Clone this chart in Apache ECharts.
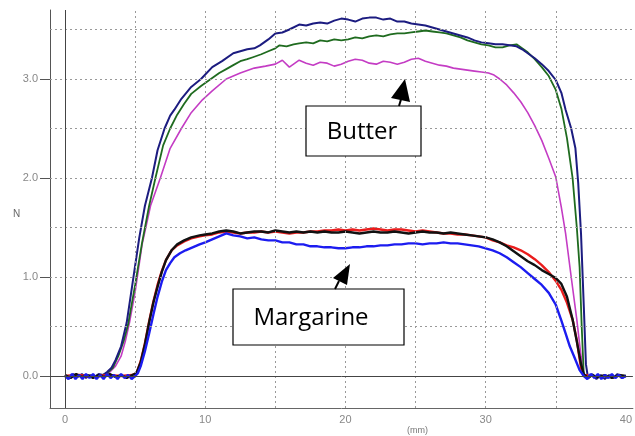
<!DOCTYPE html>
<html>
<head>
<meta charset="utf-8">
<script src="https://cdn.jsdelivr.net/npm/echarts@6/dist/echarts.min.js"></script>
<style>html,body{margin:0;background:#fff}#main{width:635px;height:436px}</style>
</head>
<body>
<div id="main"></div>
<script>
// [mm, N] points
var butterNavy = [[0,0.01],[0.3,-0.02],[0.6,0.02],[0.9,-0.01],[1.2,0.02],[1.5,-0.02],[1.8,0.01],[2.1,-0.01],[2.4,0.02],[2.7,0.01],[3.0,0.04],[3.3,0.08],[3.6,0.16],[4.0,0.3],[4.4,0.54],[4.8,0.92],[5.3,1.4],[5.7,1.72],[6.2,2.0],[6.6,2.28],[7.1,2.5],[7.5,2.63],[7.8,2.69],[8.3,2.8],[9.0,2.92],[9.7,3.0],[10.5,3.12],[11.2,3.18],[12,3.26],[12.5,3.28],[13,3.3],[13.5,3.31],[13.9,3.34],[14.5,3.4],[15,3.46],[15.5,3.47],[16,3.5],[16.7,3.55],[17.2,3.54],[17.7,3.56],[18.2,3.57],[18.7,3.56],[19.2,3.59],[19.7,3.61],[20.2,3.6],[20.7,3.58],[21.2,3.61],[21.7,3.62],[22.2,3.62],[22.7,3.6],[23.2,3.61],[23.7,3.58],[24.2,3.58],[24.7,3.56],[25.2,3.55],[25.7,3.54],[26.2,3.52],[26.7,3.5],[27.2,3.48],[27.7,3.46],[28.2,3.44],[28.7,3.42],[29.2,3.39],[29.7,3.37],[30.2,3.36],[30.7,3.35],[31.2,3.35],[31.7,3.34],[32.2,3.33],[32.6,3.3],[33,3.26],[33.5,3.21],[34,3.15],[34.5,3.08],[35,2.99],[35.4,2.86],[35.7,2.69],[36.1,2.5],[36.4,2.3],[36.6,1.95],[36.8,1.44],[37.0,0.7],[37.15,0.12],[37.3,-0.02],[37.6,0.02],[37.9,-0.03],[38.2,0.01],[38.5,-0.03],[38.8,0.01],[39.1,-0.02],[39.4,0.02],[39.7,-0.02],[40,0.0]];
var butterGreen = [[0,0],[1,0.01],[2,0],[2.7,0.01],[3.0,0.03],[3.4,0.08],[3.8,0.2],[4.2,0.36],[4.5,0.52],[5.0,0.92],[5.5,1.35],[6.0,1.72],[6.45,2.0],[7.0,2.33],[7.5,2.5],[8.0,2.64],[8.5,2.75],[9,2.85],[9.7,2.93],[10.4,3.0],[11,3.06],[11.5,3.1],[12,3.14],[12.5,3.18],[13,3.2],[13.4,3.22],[14,3.25],[14.5,3.28],[15,3.31],[15.3,3.34],[15.8,3.33],[16.3,3.35],[16.7,3.36],[17.2,3.37],[17.7,3.36],[18.2,3.39],[18.7,3.38],[19.2,3.4],[19.7,3.39],[20.2,3.4],[20.7,3.42],[21.2,3.41],[21.7,3.43],[22.2,3.44],[22.7,3.43],[23.2,3.45],[23.7,3.46],[24.2,3.46],[24.7,3.47],[25.2,3.48],[25.7,3.49],[26.2,3.48],[26.7,3.47],[27.2,3.46],[27.7,3.44],[28.2,3.42],[28.7,3.39],[29.2,3.37],[29.7,3.35],[30.2,3.34],[30.7,3.32],[31.2,3.32],[31.7,3.34],[32.2,3.35],[32.6,3.31],[33,3.27],[33.5,3.2],[34,3.12],[34.5,3.03],[35,2.89],[35.4,2.7],[35.8,2.4],[36.2,2.0],[36.5,1.5],[36.7,1.1],[36.85,0.5],[37.0,0.0],[37.3,0.0]];
var butterMagenta = [[0,0],[1,0.01],[2,0],[2.8,0.01],[3.2,0.04],[3.6,0.1],[4.0,0.2],[4.3,0.35],[4.6,0.54],[5.0,0.85],[5.5,1.33],[6.1,1.72],[6.8,2.0],[7.5,2.3],[8.3,2.5],[9.0,2.66],[9.8,2.79],[10.5,2.88],[11.5,3.0],[12.5,3.06],[13.5,3.11],[14.3,3.13],[15,3.15],[15.5,3.19],[16,3.12],[16.7,3.19],[17.2,3.16],[17.7,3.14],[18.2,3.17],[18.7,3.16],[19.2,3.13],[19.7,3.15],[20.2,3.18],[20.7,3.2],[21.2,3.19],[21.7,3.16],[22.2,3.15],[22.7,3.18],[23.2,3.17],[23.7,3.15],[24.2,3.17],[24.7,3.2],[25.2,3.21],[25.7,3.18],[26.2,3.16],[26.7,3.14],[27.2,3.13],[27.7,3.11],[28.2,3.1],[28.7,3.09],[29.2,3.08],[29.7,3.07],[30.2,3.06],[30.6,3.04],[31,3.0],[31.5,2.94],[32,2.86],[32.5,2.77],[33,2.66],[33.5,2.53],[34,2.38],[34.5,2.2],[35,2.01],[35.4,1.7],[35.7,1.44],[36.1,1.0],[36.5,0.57],[36.8,0.2],[37.0,0.0],[37.4,0.01]];
var margRed = [[0,0],[1,0.01],[2,-0.01],[3,0.01],[4,0],[4.8,0.01],[5.1,0.03],[5.4,0.15],[5.7,0.33],[6.0,0.55],[6.3,0.75],[6.6,0.92],[6.9,1.06],[7.2,1.17],[7.6,1.27],[8.0,1.32],[8.5,1.36],[9.0,1.39],[9.6,1.41],[10,1.42],[10.5,1.43],[11,1.45],[11.5,1.46],[12,1.45],[12.5,1.44],[13,1.45],[13.5,1.45],[14,1.46],[14.5,1.45],[15,1.46],[15.5,1.45],[16,1.44],[16.5,1.45],[17,1.45],[17.5,1.46],[18,1.46],[18.5,1.47],[19,1.47],[19.5,1.48],[20,1.47],[20.5,1.48],[21,1.47],[21.5,1.48],[22,1.49],[22.5,1.48],[23,1.47],[23.5,1.48],[24,1.48],[24.5,1.47],[25,1.46],[25.5,1.47],[26,1.46],[26.5,1.45],[27,1.44],[27.5,1.44],[28,1.43],[28.5,1.43],[29,1.42],[29.5,1.41],[30,1.4],[30.5,1.37],[31,1.35],[31.5,1.32],[32,1.3],[32.5,1.27],[33,1.23],[33.5,1.18],[34,1.12],[34.5,1.05],[35,0.96],[35.4,0.87],[35.8,0.74],[36.2,0.57],[36.5,0.36],[36.8,0.08],[37.0,0.0],[37.3,0.01]];
var margBlack = [[0,0.01],[0.4,-0.02],[0.8,0.02],[1.2,-0.01],[1.6,0.01],[2.0,-0.02],[2.4,0.01],[2.8,-0.01],[3.2,0.02],[3.6,-0.01],[4.0,0.01],[4.4,-0.02],[4.8,0.01],[5.1,0.03],[5.4,0.14],[5.7,0.32],[6.0,0.54],[6.3,0.74],[6.6,0.9],[6.9,1.05],[7.2,1.17],[7.6,1.27],[8.0,1.33],[8.5,1.37],[9.0,1.4],[9.6,1.42],[10,1.43],[10.5,1.44],[11,1.46],[11.5,1.47],[12,1.46],[12.5,1.44],[13,1.45],[13.5,1.46],[14,1.46],[14.5,1.45],[15,1.47],[15.5,1.46],[16,1.45],[16.5,1.46],[17,1.45],[17.5,1.46],[18,1.45],[18.5,1.46],[19,1.45],[19.5,1.45],[20,1.46],[20.5,1.45],[21,1.44],[21.5,1.45],[22,1.46],[22.5,1.45],[23,1.45],[23.5,1.46],[24,1.45],[24.5,1.44],[25,1.45],[25.5,1.46],[26,1.45],[26.5,1.45],[27,1.44],[27.5,1.45],[28,1.44],[28.5,1.43],[29,1.42],[29.5,1.41],[30,1.4],[30.5,1.38],[31,1.35],[31.5,1.31],[32,1.26],[32.5,1.21],[33,1.16],[33.5,1.12],[34,1.07],[34.5,1.03],[35,0.99],[35.4,0.93],[35.8,0.8],[36.2,0.57],[36.5,0.35],[36.8,0.12],[37.0,0.02],[37.3,-0.02],[37.6,0.01],[38,-0.01],[38.5,0.01],[39,-0.02],[39.5,0.01],[40,0]];
var margBlue = [[0,0.0],[0.25,-0.03],[0.5,0.02],[0.75,-0.03],[1,0.01],[1.25,-0.03],[1.5,0.02],[1.75,-0.02],[2,0.02],[2.25,-0.03],[2.5,0.01],[2.75,-0.03],[3,0.02],[3.25,-0.02],[3.5,0.01],[3.75,-0.03],[4,0.02],[4.25,-0.02],[4.5,0.01],[4.75,-0.03],[5.0,0.0],[5.2,0.03],[5.4,0.1],[5.7,0.25],[6.0,0.43],[6.3,0.62],[6.6,0.8],[6.9,0.95],[7.2,1.07],[7.5,1.14],[7.8,1.2],[8.2,1.24],[8.6,1.27],[9.1,1.3],[9.6,1.33],[10,1.35],[10.5,1.38],[11,1.41],[11.5,1.44],[12,1.42],[12.5,1.41],[13,1.39],[13.5,1.4],[14,1.38],[14.5,1.37],[15,1.37],[15.5,1.35],[16,1.35],[16.5,1.33],[17,1.33],[17.5,1.31],[18,1.31],[18.5,1.3],[19,1.3],[19.5,1.29],[20,1.29],[20.5,1.3],[21,1.3],[21.5,1.31],[22,1.31],[22.5,1.32],[23,1.32],[23.5,1.33],[24,1.33],[24.5,1.34],[25,1.34],[25.5,1.33],[26,1.34],[26.5,1.34],[27,1.35],[27.5,1.34],[28,1.34],[28.5,1.33],[29,1.32],[29.5,1.31],[30,1.29],[30.5,1.27],[31,1.24],[31.5,1.2],[32,1.15],[32.5,1.1],[33,1.04],[33.5,0.98],[34,0.92],[34.5,0.84],[35,0.72],[35.4,0.56],[35.7,0.43],[36.0,0.3],[36.3,0.2],[36.7,0.06],[37.0,0.0],[37.25,-0.03],[37.5,0.02],[37.75,-0.02],[38,0.02],[38.25,-0.03],[38.5,0.01],[38.75,-0.02],[39,0.02],[39.25,-0.02],[39.5,0.01],[39.75,-0.02],[40,0]];

var xTicks = [0, 10, 20, 30, 40];
var yTicks = [0, 1, 2, 3];
var xGrid = [5, 10, 15, 20, 25, 30, 35];
var yGrid = [0.5, 1, 1.5, 2, 2.5, 3, 3.5];

var labelFont = "'Liberation Sans Narrow', 'Liberation Sans', sans-serif";

function trace(data, color, width) {
  return {
    type: 'line',
    data: data,
    showSymbol: false,
    silent: true,
    lineStyle: { color: color, width: width },
    itemStyle: { color: color }
  };
}

var gridLines = [];
xGrid.forEach(function (v) { gridLines.push({ xAxis: v }); });
yGrid.forEach(function (v) { gridLines.push({ yAxis: v }); });

var myChart = echarts.init(document.getElementById('main'));
myChart.setOption({
  animation: false,
  grid: { left: 50, right: 0, top: 10, bottom: 28 },
  xAxis: {
    type: 'value',
    min: -1.07,
    max: 40.5,
    axisLine: { show: true, onZero: false, lineStyle: { color: '#666', width: 1 } },
    axisTick: { show: false },
    splitLine: { show: false },
    axisLabel: {
      customValues: xTicks,
      color: '#888',
      fontSize: 11,
      fontFamily: labelFont,
      margin: 6
    }
  },
  yAxis: {
    type: 'value',
    min: -0.323,
    max: 3.697,
    axisLine: { show: true, onZero: false, lineStyle: { color: '#555', width: 1 } },
    axisTick: { show: true, customValues: yTicks, length: 10, lineStyle: { color: '#555' } },
    splitLine: { show: false },
    axisLabel: {
      customValues: yTicks,
      formatter: function (v) { return v.toFixed(1); },
      color: '#888',
      fontSize: 11,
      fontFamily: labelFont,
      margin: 12
    }
  },
  graphic: [
    { type: 'text', left: 13, top: 209, style: { text: 'N', fill: '#666', font: "10px " + labelFont } },
    { type: 'text', left: 407, top: 426, style: { text: '(mm)', fill: '#777', font: "9px " + labelFont } },
    // Butter label
    { type: 'rect', shape: { x: 306, y: 106, width: 115, height: 50 }, style: { fill: '#fff', stroke: '#000', lineWidth: 1.2 }, z: 100 },
    { type: 'text', x: 362, y: 132, style: { text: 'Butter', fill: '#000', font: "24px 'Open Sans', sans-serif", align: 'center', verticalAlign: 'middle' }, z: 101 },
    { type: 'line', shape: { x1: 399, y1: 106, x2: 402, y2: 96 }, style: { stroke: '#000', lineWidth: 2 }, z: 100 },
    { type: 'polygon', shape: { points: [[405, 79], [391, 98], [410, 102]] }, style: { fill: '#000' }, z: 100 },
    // Margarine label
    { type: 'rect', shape: { x: 233, y: 289, width: 171, height: 56 }, style: { fill: '#fff', stroke: '#000', lineWidth: 1.2 }, z: 100 },
    { type: 'text', x: 311, y: 318, style: { text: 'Margarine', fill: '#000', font: "24px 'Open Sans', sans-serif", align: 'center', verticalAlign: 'middle' }, z: 101 },
    { type: 'line', shape: { x1: 335, y1: 289, x2: 339, y2: 281 }, style: { stroke: '#000', lineWidth: 2 }, z: 100 },
    { type: 'polygon', shape: { points: [[350, 264], [333, 278], [347, 285]] }, style: { fill: '#000' }, z: 100 }
  ],
  series: [
    {
      type: 'line',
      data: [],
      silent: true,
      markLine: {
        silent: true,
        symbol: 'none',
        label: { show: false },
        lineStyle: { color: '#999', type: [2, 3], width: 1 },
        data: gridLines
      }
    },
    {
      type: 'line',
      data: [],
      silent: true,
      markLine: {
        silent: true,
        symbol: 'none',
        label: { show: false },
        lineStyle: { color: '#444', type: 'solid', width: 1 },
        data: [{ xAxis: 0 }, { yAxis: 0 }]
      }
    },
    trace(butterMagenta, '#c43cc4', 1.6),
    trace(butterGreen, '#1f6b1f', 1.8),
    trace(butterNavy, '#1c1c80', 2),
    trace(margRed, '#ea1c1c', 2.4),
    trace(margBlack, '#111111', 2.4),
    trace(margBlue, '#1c1cf0', 2.4)
  ]
});
</script>
</body>
</html>
